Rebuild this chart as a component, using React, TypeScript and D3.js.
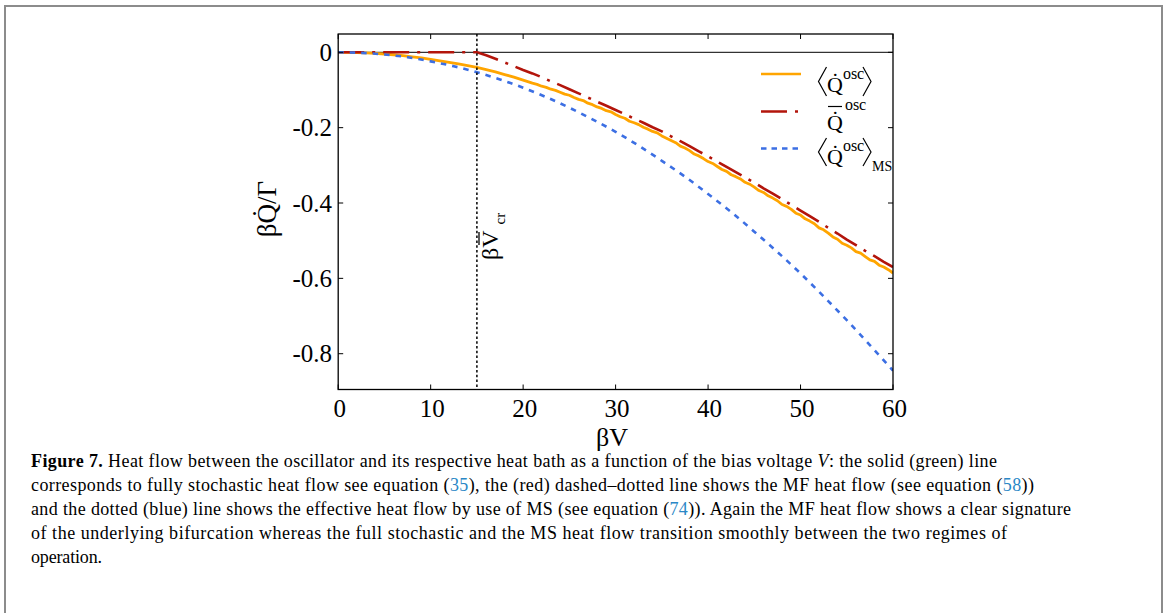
import React from 'react';
import * as d3 from 'd3';

const W = 1168;
const H = 613;

const xTicks = [0, 10, 20, 30, 40, 50, 60];
const yTicks = [0, -0.2, -0.4, -0.6, -0.8];
const yTickLabels = ['0', '-0.2', '-0.4', '-0.6', '-0.8'];
const critV = 15;

// full stochastic heat flow <Q^osc>
const stochV = d3.range(0, 20, 1).concat(d3.range(20, 60.001, 0.5));
const stochQ = [
  0, -0.0002, -0.0008, -0.0016, -0.003, -0.0045, -0.0065, -0.009, -0.012, -0.015,
  -0.019, -0.023, -0.027, -0.031, -0.0355, -0.04, -0.046, -0.052, -0.059, -0.066,
  -0.074, -0.078, -0.082, -0.085, -0.09, -0.093, -0.098, -0.101, -0.106, -0.111,
  -0.114, -0.12, -0.125, -0.128, -0.135, -0.139, -0.145, -0.149, -0.155, -0.158,
  -0.165, -0.171, -0.175, -0.183, -0.187, -0.192, -0.199, -0.204, -0.21, -0.214,
  -0.222, -0.228, -0.234, -0.24, -0.249, -0.254, -0.261, -0.27, -0.275, -0.282,
  -0.29, -0.295, -0.303, -0.311, -0.316, -0.325, -0.33, -0.336, -0.345, -0.35,
  -0.358, -0.367, -0.372, -0.381, -0.387, -0.394, -0.404, -0.409, -0.417, -0.427,
  -0.432, -0.442, -0.448, -0.455, -0.466, -0.471, -0.48, -0.49, -0.496, -0.507,
  -0.512, -0.519, -0.529, -0.533, -0.542, -0.551, -0.555, -0.565, -0.57, -0.577,
  -0.586,
];

// mean field heat flow
const mfV = [0, 15, 16, 17, 18, 19, 20, 21, 22, 23, 24, 25, 26, 27, 28, 29, 30, 31, 32, 33, 34, 35,
  36, 37, 38, 39, 40, 41, 42, 43, 44, 45, 46, 47, 48, 49, 50, 51, 52, 53, 54, 55, 56, 57, 58, 59, 60];
const mfQ = [0, 0, -0.008, -0.017, -0.027, -0.037, -0.047, -0.056, -0.066, -0.077, -0.087, -0.098,
  -0.109, -0.12, -0.131, -0.142, -0.153, -0.164, -0.176, -0.187, -0.199, -0.21, -0.223, -0.236,
  -0.249, -0.263, -0.276, -0.29, -0.304, -0.318, -0.332, -0.346, -0.361, -0.375, -0.39, -0.405,
  -0.42, -0.435, -0.45, -0.466, -0.481, -0.497, -0.512, -0.527, -0.541, -0.556, -0.57];

// heat flow from MS
const msV = d3.range(0, 60.001, 2.5);
const msQ = [0, -0.0015, -0.006, -0.013, -0.024, -0.037, -0.053, -0.072, -0.094, -0.119, -0.147,
  -0.178, -0.211, -0.248, -0.288, -0.33, -0.376, -0.424, -0.476, -0.53, -0.587, -0.648, -0.711,
  -0.777, -0.845];

const serif = "'Liberation Serif', 'Times New Roman', serif";
const refBlue = '#2a87c6';

const captionLines = [
  { w: 966, parts: [
    { t: 'Figure 7.', b: true },
    { t: ' Heat flow between the oscillator and its respective heat bath as a function of the bias voltage ' },
    { t: 'V', i: true },
    { t: ': the solid (green) line' },
  ] },
  { w: 1003, parts: [
    { t: 'corresponds to fully stochastic heat flow see equation (' },
    { t: '35', c: true },
    { t: '), the (red) dashed\u2013dotted line shows the MF heat flow (see equation (' },
    { t: '58', c: true },
    { t: '))' },
  ] },
  { w: 1040, parts: [
    { t: 'and the dotted (blue) line shows the effective heat flow by use of MS (see equation (' },
    { t: '74', c: true },
    { t: ')). Again the MF heat flow shows a clear signature' },
  ] },
  { w: 976, parts: [
    { t: 'of the underlying bifurcation whereas the full stochastic and the MS heat flow transition smoothly between the two regimes of' },
  ] },
  { w: 71, parts: [{ t: 'operation.' }] },
];

const App = () => {
  const x = d3.scaleLinear().domain([0, 60]).range([338.2, 893]);
  const y = d3.scaleLinear().domain([-0.895, 0.0486]).range([389.5, 34]);
  const [x0, x1] = x.range();
  const [y0, y1] = y.range();

  const line = d3.line<[number, number]>().x(d => x(d[0])).y(d => y(d[1]));
  const smooth = d3.line<[number, number]>().x(d => x(d[0])).y(d => y(d[1])).curve(d3.curveMonotoneX);

  const stochPath = line(stochV.map((v, i) => [v, stochQ[i]]));
  const mfPath = line(mfV.map((v, i) => [v, mfQ[i]]));
  const msPath = smooth(msV.map((v, i) => [v, msQ[i]]));

  const orange = '#ffa500';
  const red = '#b3150b';
  const blue = '#3c6fe3';

  return (
    <svg width={W} height={H} style={{ position: 'absolute', left: 0, top: 0, background: '#fff' }}
      fontFamily={serif}>
      <rect x={5} y={6} width={1157} height={700} fill="none" stroke="#8c8c8c" strokeWidth={2} />

      <defs>
        <clipPath id="plot">
          <rect x={x0} y={y1} width={x1 - x0} height={y0 - y1} />
        </clipPath>
      </defs>

      <line x1={x0} x2={x1} y1={y(0)} y2={y(0)} stroke="#000" strokeWidth={1} />

      <g clipPath="url(#plot)" fill="none" strokeLinejoin="round">
        <path d={stochPath || ''} stroke={orange} strokeWidth={2.8} />
        <path d={mfPath || ''} stroke={red} strokeWidth={2.6} strokeDasharray="26,8,3,8" />
        <path d={msPath || ''} stroke={blue} strokeWidth={2.6} strokeDasharray="5.5,6" />
      </g>

      <line x1={x(critV)} x2={x(critV)} y1={y1} y2={y0} stroke="#000" strokeWidth={1.5}
        strokeDasharray="2.5,2.3" />

      <rect x={x0} y={y1} width={x1 - x0} height={y0 - y1} fill="none" stroke="#000" strokeWidth={1.3} />

      {xTicks.map(t => (
        <g key={'x' + t}>
          <line x1={x(t)} x2={x(t)} y1={y0} y2={y0 - 5} stroke="#000" strokeWidth={1} />
          <line x1={x(t)} x2={x(t)} y1={y1} y2={y1 + 5} stroke="#000" strokeWidth={1} />
          <text x={x(t) + 1.5} y={417} fontSize={25} textAnchor="middle">{t}</text>
        </g>
      ))}
      {yTicks.map((t, i) => (
        <g key={'y' + t}>
          <line x1={x0} x2={x0 + 5} y1={y(t)} y2={y(t)} stroke="#000" strokeWidth={1} />
          <line x1={x1} x2={x1 - 5} y1={y(t)} y2={y(t)} stroke="#000" strokeWidth={1} />
          <text x={332} y={y(t) + 8.5} fontSize={25} textAnchor="end">{yTickLabels[i]}</text>
        </g>
      ))}

      <text x={612} y={446} fontSize={26} textAnchor="middle">βV</text>
      <text transform="translate(276,209) rotate(-90)" fontSize={27} textAnchor="middle">βQ̇/Γ</text>
      <g transform="translate(498,260) rotate(-90)">
        <text fontSize={24}>
          βV<tspan fontSize={15} dx={6} dy={7}>cr</tspan>
        </text>
        <line x1={15} x2={28} y1={-19} y2={-19} stroke="#000" strokeWidth={1.3} />
      </g>

      {/* legend */}
      <g>
        <line x1={761} x2={801} y1={74} y2={74} stroke={orange} strokeWidth={2.6} />
        <line x1={761} x2={801} y1={111.5} y2={111.5} stroke={red} strokeWidth={2.6} strokeDasharray="26,8,3,8" />
        <line x1={761} x2={801} y1={148.5} y2={148.5} stroke={blue} strokeWidth={2.6} strokeDasharray="5.5,5" />

        <path d="M826.5,67 L818.5,81.5 L826.5,96" fill="none" stroke="#000" strokeWidth={1.2} />
        <text x={827} y={92} fontSize={22}>Q̇<tspan fontSize={16} dy={-13}>osc</tspan></text>
        <path d="M863,67 L871,81.5 L863,96" fill="none" stroke="#000" strokeWidth={1.2} />

        <line x1={828} x2={842} y1={106.5} y2={106.5} stroke="#000" strokeWidth={1.2} />
        <text x={827} y={130} fontSize={22}>Q̇<tspan fontSize={16} dx={2} dy={-20}>osc</tspan></text>

        <path d="M826.5,138 L818.5,152 L826.5,166" fill="none" stroke="#000" strokeWidth={1.2} />
        <text x={827} y={164} fontSize={22}>Q̇<tspan fontSize={16} dy={-13}>osc</tspan></text>
        <path d="M863,138 L871,152 L863,166" fill="none" stroke="#000" strokeWidth={1.2} />
        <text x={872} y={171} fontSize={14}>MS</text>
      </g>

      {/* caption */}
      {captionLines.map((ln, i) => (
        <text key={'c' + i} x={31} y={467 + i * 24} fontSize={18} textLength={ln.w}
          lengthAdjust="spacing">
          {ln.parts.map((p: any, j) => (
            <tspan key={j} fontWeight={p.b ? 'bold' : undefined} fontStyle={p.i ? 'italic' : undefined}
              fill={p.c ? refBlue : '#000'}>{p.t}</tspan>
          ))}
        </text>
      ))}
    </svg>
  );
};

export default App;
